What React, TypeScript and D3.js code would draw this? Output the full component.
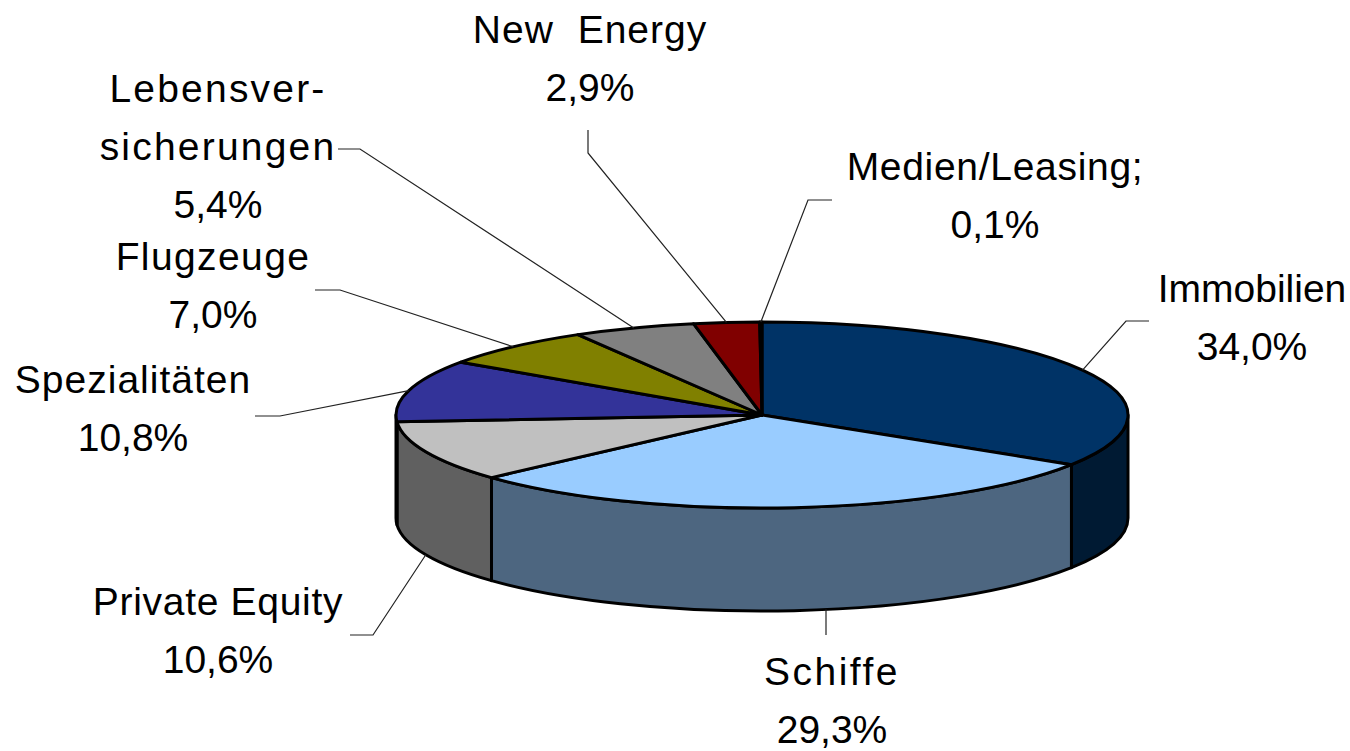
import React from "react";
import * as d3 from "d3";

const categories = [
  "Immobilien",
  "Schiffe",
  "Private Equity",
  "Spezialitäten",
  "Flugzeuge",
  "Lebensversicherungen",
  "New Energy",
  "Medien/Leasing;",
];
const values = [34.0, 29.3, 10.6, 10.8, 7.0, 5.4, 2.9, 0.1];
const valueLabels = ["34,0%", "29,3%", "10,6%", "10,8%", "7,0%", "5,4%", "2,9%", "0,1%"];
const nameLines = [
  ["Immobilien"],
  ["Schiffe"],
  ["Private Equity"],
  ["Spezialitäten"],
  ["Flugzeuge"],
  ["Lebensver-", "sicherungen"],
  ["New Energy"],
  ["Medien/Leasing;"],
];
const topColors = ["#003366", "#99CCFF", "#C0C0C0", "#333399", "#808000", "#808080", "#800000", "#FFFFCC"];

// layout: label center x, first baseline, leader elbow and end, text spacing
const labelLayout = [
  { x: 1252, y: 302, elbow: [1126, 321], end: [1149, 321], mode: "mid", ls: 0, ws: 0 },
  { x: 832, y: 685, elbow: [826, 635], end: [826, 635], mode: "vertical", ls: 2.5, ws: 0 },
  { x: 218, y: 615, elbow: [373, 635], end: [350, 635], mode: "mid", ls: 0.7, ws: 0 },
  { x: 133, y: 393, elbow: [280, 416], end: [255, 416], mode: "mid", ls: 1, ws: 0 },
  { x: 213, y: 270, elbow: [340, 290], end: [315, 290], mode: "mid", ls: 1.4, ws: 0 },
  { x: 218, y: 102, elbow: [360, 149], end: [338, 149], mode: "mid", ls: 2.2, ws: 0 },
  { x: 590, y: 43, elbow: [588, 153], end: [588, 130], mode: "mid", ls: 1, ws: 12 },
  { x: 995, y: 180, elbow: [808, 200], end: [832, 200], mode: "mid", ls: 0.7, ws: 0 },
];

const W = 1350;
const H = 751;
const cx = 762;
const cy = 415;
const rx = 366;
const ry = 93;
const depth = 103;
const lineH = 58;

const px = (a: number) => cx + rx * Math.sin(a);
const py = (a: number, z = 0) => cy - ry * Math.cos(a) + z;

function darken(c: string) {
  const r = d3.rgb(c);
  return d3.rgb(r.r * 0.5, r.g * 0.5, r.b * 0.5).formatHex();
}

export default function App() {
  const data = categories.map((c, i) => ({ name: c, value: values[i], i }));
  const arcs = d3
    .pie<any>()
    .sort(null)
    .value((d: any) => d.value)
    .startAngle(0)
    .endAngle(2 * Math.PI)(data);

  const tops = arcs.map((a) => {
    const large = a.endAngle - a.startAngle > Math.PI ? 1 : 0;
    const p = d3.path();
    p.moveTo(cx, cy);
    p.lineTo(px(a.startAngle), py(a.startAngle));
    const d =
      p.toString() +
      `A${rx},${ry} 0 ${large} 1 ${px(a.endAngle)},${py(a.endAngle)}Z`;
    return { d, fill: topColors[a.data.i], key: a.data.name };
  });

  const sides: any[] = [];
  arcs.forEach((a) => {
    const s = Math.max(a.startAngle, Math.PI / 2);
    const e = Math.min(a.endAngle, (3 * Math.PI) / 2);
    if (e - s <= 0.0005) return;
    const d =
      `M${px(s)},${py(s)}` +
      `A${rx},${ry} 0 0 1 ${px(e)},${py(e)}` +
      `L${px(e)},${py(e, depth)}` +
      `A${rx},${ry} 0 0 0 ${px(s)},${py(s, depth)}Z`;
    sides.push({ d, fill: darken(topColors[a.data.i]), key: a.data.name });
  });

  const leaders = arcs.map((a) => {
    const L = labelLayout[a.data.i];
    const mid = (a.startAngle + a.endAngle) / 2;
    let ax: number, ay: number;
    if (L.mode === "vertical") {
      const ang = Math.PI - Math.asin((L.elbow[0] - cx) / rx);
      ax = L.elbow[0];
      ay = py(ang, depth);
    } else {
      const front = mid > Math.PI / 2 && mid < (3 * Math.PI) / 2;
      ax = px(mid);
      ay = py(mid, front ? depth : 0);
    }
    const line = d3.line();
    return {
      d: line([[ax, ay], L.elbow as [number, number], L.end as [number, number]]) as string,
      key: a.data.name,
    };
  });

  return (
    <div style={{ position: "absolute", left: 0, top: 0 }}>
      <svg width={W} height={H} style={{ display: "block", background: "#fff" }}>
        <g stroke="#000" strokeWidth={3} strokeLinejoin="round">
          {sides.map((s) => (
            <path key={"s" + s.key} d={s.d} fill={s.fill} />
          ))}
          {tops.map((t) => (
            <path key={"t" + t.key} d={t.d} fill={t.fill} />
          ))}
        </g>
        <g stroke="#222" strokeWidth={1.2} fill="none">
          {leaders.map((l) => (
            <path key={"l" + l.key} d={l.d} />
          ))}
        </g>
        <g
          fontFamily="'Liberation Sans', Arial, sans-serif"
          fontSize={39}
          fill="#000"
          textAnchor="middle"
        >
          {categories.map((c, i) => {
            const L = labelLayout[i];
            const names = nameLines[i];
            const lines = [...names, valueLabels[i]];
            return (
              <text key={"x" + c}>
                {lines.map((ln, j) => (
                  <tspan
                    key={j}
                    x={L.x}
                    y={L.y + j * lineH}
                    letterSpacing={j < names.length ? L.ls : 0}
                    wordSpacing={j < names.length ? L.ws : 0}
                  >
                    {ln}
                  </tspan>
                ))}
              </text>
            );
          })}
        </g>
      </svg>
    </div>
  );
}
